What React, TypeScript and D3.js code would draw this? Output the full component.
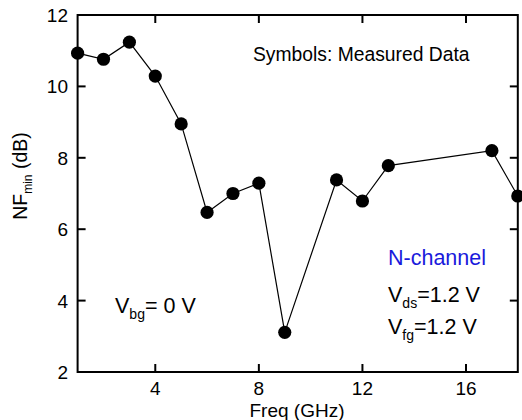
import React from "react";
import * as d3 from "d3";

const freq = [1, 2, 3, 4, 5, 6, 7, 8, 9, 11, 12, 13, 17, 18];
const nfmin = [10.93, 10.76, 11.24, 10.29, 8.95, 6.47, 7.0, 7.29, 3.11, 7.38, 6.79, 7.78, 8.2, 6.93];
const xTicks = [4, 8, 12, 16];
const yTicks = [2, 4, 6, 8, 10, 12];

const W = 522;
const H = 420;
const FONT = "'Liberation Sans', Arial, Helvetica, sans-serif";

export default function App() {
  const x = d3.scaleLinear().domain([1, 18]).range([77.6, 517.8]);
  const y = d3.scaleLinear().domain([2, 12]).range([372, 15]);
  const data = freq.map((f, i) => ({ f, v: nfmin[i] }));
  const line = d3
    .line<{ f: number; v: number }>()
    .x((d) => x(d.f))
    .y((d) => y(d.v));
  const [x0, x1] = x.range();
  const [y0, y1] = y.range();
  const tl = 8;
  return (
    <div style={{ position: "fixed", left: 0, top: 0, width: W, height: H, background: "#fff" }}>
      <svg width={W} height={H} style={{ display: "block", fontFamily: FONT }}>
        <rect width={W} height={H} fill="#fff" />
        <path d={line(data) || ""} fill="none" stroke="#000" strokeWidth={1.2} />
        {data.map((d, i) => (
          <circle key={i} cx={x(d.f)} cy={y(d.v)} r={6.6} fill="#000" />
        ))}
        <rect x={x0} y={y1} width={x1 - x0} height={y0 - y1} fill="none" stroke="#000" strokeWidth={2} />
        {xTicks.map((t) => (
          <g key={"x" + t}>
            <line x1={x(t)} x2={x(t)} y1={y0} y2={y0 - tl} stroke="#000" strokeWidth={2} />
            <line x1={x(t)} x2={x(t)} y1={y1} y2={y1 + tl} stroke="#000" strokeWidth={2} />
            <text x={x(t)} y={395} textAnchor="middle" fontSize={19} fill="#000">
              {t}
            </text>
          </g>
        ))}
        {yTicks.map((t) => (
          <g key={"y" + t}>
            <line x1={x0} x2={x0 + tl} y1={y(t)} y2={y(t)} stroke="#000" strokeWidth={2} />
            <line x1={x1} x2={x1 - tl} y1={y(t)} y2={y(t)} stroke="#000" strokeWidth={2} />
            <text x={68} y={y(t) + 7} textAnchor="end" fontSize={19} fill="#000">
              {t}
            </text>
          </g>
        ))}
        <text x={297} y={416.5} textAnchor="middle" fontSize={19} fill="#000">
          Freq (GHz)
        </text>
        <text transform="translate(27,176) rotate(-90)" textAnchor="middle" fontSize={19.5} fill="#000">
          <tspan>NF</tspan>
          <tspan fontSize={12} dy={5}>min</tspan>
          <tspan dy={-5}> (dB)</tspan>
        </text>
        <text x={253} y={61} fontSize={19.3} fill="#000">
          Symbols: Measured Data
        </text>
        <text x={388} y={265} fontSize={21.5} fill="#1a1adc">
          N-channel
        </text>
        <text x={388} y={302} fontSize={21.5} fill="#000">
          <tspan>V</tspan>
          <tspan fontSize={14} dy={6}>ds</tspan>
          <tspan dy={-6}>=1.2 V</tspan>
        </text>
        <text x={388} y={334} fontSize={21.5} fill="#000">
          <tspan>V</tspan>
          <tspan fontSize={14} dy={6}>fg</tspan>
          <tspan dy={-6}>=1.2 V</tspan>
        </text>
        <text x={115} y={313} fontSize={21.5} fill="#000">
          <tspan>V</tspan>
          <tspan fontSize={14} dy={6}>bg</tspan>
          <tspan dy={-6}>= 0 V</tspan>
        </text>
      </svg>
    </div>
  );
}
